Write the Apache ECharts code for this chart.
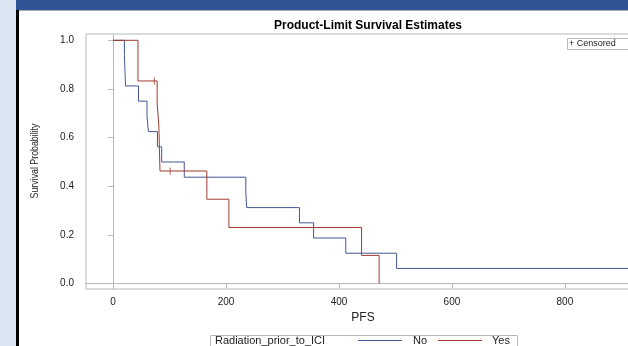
<!DOCTYPE html>
<html>
<head>
<meta charset="utf-8">
<script src="https://cdn.jsdelivr.net/npm/echarts@6/dist/echarts.min.js"></script>
<style>
  html, body { margin: 0; padding: 0; width: 628px; height: 346px; overflow: hidden; background: #dce6f2; }
  #bar { position: absolute; left: 16px; top: 0; width: 612px; height: 10px; background: #2f5597; border-bottom: 1px solid #a6a6a6; }
  #edge { position: absolute; left: 16px; top: 10px; width: 3px; height: 336px; background: #000; }
  #main { position: absolute; left: 19px; top: 11px; width: 650px; height: 335px; background: #fff; }
</style>
</head>
<body>
<div id="bar"></div>
<div id="edge"></div>
<div id="main"></div>
<script>
// 各组生存曲线（时间, 生存率）
var noTimes   = [0, 20, 22, 45, 60, 62.5, 78.5, 86, 126, 235, 236.5, 330, 355, 412, 502, 933];
var noSurv    = [1.0, 0.9375, 0.8125, 0.75, 0.6875, 0.625, 0.5625, 0.5, 0.4375, 0.375, 0.3125, 0.25, 0.1875, 0.125, 0.0625, 0.0625];
var yesTimes  = [0, 44, 78, 81, 83, 166, 205, 440, 471];
var yesSurv   = [1.0, 0.833, 0.741, 0.648, 0.463, 0.347, 0.231, 0.116, 0.0];
// 删失点
var yesCensTimes = [73, 101];
var yesCensSurv  = [0.833, 0.463];

var xTicks = [0, 200, 400, 600, 800];
var yTicks = [0, 0.2, 0.4, 0.6, 0.8, 1.0];

function pairs(xs, ys) {
    return xs.map(function(x, i) { return [x, ys[i]]; });
}

var blue = '#445694', red = '#a23a2e', frame = '#b8b8b8';
var sans = '"Liberation Sans", Arial, sans-serif';

// 图例（手工绘制）
function legendLine(x, color) {
    return { type: 'line', shape: { x1: x, y1: 329.5, x2: x + 44, y2: 329.5 }, style: { stroke: color, lineWidth: 1 } };
}
function legendText(x, text) {
    return { type: 'text', x: x, y: 330, style: { text: text, fontFamily: sans, fontSize: 11, fill: '#222', verticalAlign: 'middle' } };
}

var myChart = echarts.init(document.getElementById('main'));
var option = {
    animation: false,
    title: {
        text: 'Product-Limit Survival Estimates',
        left: 344,
        textAlign: 'center',
        top: 4,
        textStyle: { fontFamily: sans, fontSize: 12, fontWeight: 'bold', color: '#000' }
    },
    grid: {
        left: 67, right: 29, top: 23, bottom: 57,
        show: true, borderColor: frame, borderWidth: 1
    },
    xAxis: {
        type: 'value',
        min: -48, max: 933,
        name: 'PFS',
        nameLocation: 'middle',
        nameGap: 21,
        nameTextStyle: { fontFamily: sans, fontSize: 12, color: '#222' },
        axisLine: { lineStyle: { color: frame } },
        axisTick: { length: 5, lineStyle: { color: frame }, customValues: xTicks },
        axisLabel: { customValues: xTicks, margin: 8, fontFamily: sans, fontSize: 10, color: '#222' },
        splitLine: { show: false }
    },
    yAxis: {
        type: 'value',
        min: -0.022, max: 1.026,
        axisLine: { show: true, lineStyle: { color: frame } },
        axisTick: { show: true, length: 5, lineStyle: { color: frame }, customValues: yTicks },
        axisLabel: {
            customValues: yTicks, margin: 12, fontFamily: sans, fontSize: 10, color: '#222',
            formatter: function(v) { return v.toFixed(1); }
        },
        splitLine: { show: false }
    },
    graphic: [
        // 纵轴标题（窄体）
        { type: 'text', x: 16, y: 150, rotation: Math.PI / 2, scaleX: 0.8,
          style: { text: 'Survival Probability', fontFamily: sans, fontSize: 11, fill: '#222', align: 'center', verticalAlign: 'middle' } },
        { type: 'rect', shape: { x: 191.5, y: 324.5, width: 307, height: 11 }, style: { fill: '#fff', stroke: frame, lineWidth: 1 }, z: -1 },
        legendText(196, 'Radiation_prior_to_ICI'),
        legendLine(339, blue),
        legendText(394, 'No'),
        legendLine(419, red),
        legendText(473, 'Yes'),
        { type: 'rect', shape: { x: 548.5, y: 27.5, width: 100, height: 11 }, style: { fill: '#fff', stroke: frame, lineWidth: 1 } },
        { type: 'text', x: 550, y: 33, z: 10, style: { text: '+ Censored', fontFamily: sans, fontSize: 9, fill: '#222', verticalAlign: 'middle' } }
    ],
    series: [
        {
            name: 'No', type: 'line', step: 'end', showSymbol: false,
            itemStyle: { color: blue }, lineStyle: { width: 1, color: blue },
            data: pairs(noTimes, noSurv)
        },
        {
            name: 'Yes', type: 'line', step: 'end', showSymbol: false,
            itemStyle: { color: red }, lineStyle: { width: 1, color: red },
            data: pairs(yesTimes, yesSurv)
        },
        {
            name: 'Censored', type: 'scatter',
            symbol: 'path://M3,0h1v7h-1z', symbolSize: [1, 7],
            itemStyle: { color: red },
            data: pairs(yesCensTimes, yesCensSurv)
        }
    ]
};
myChart.setOption(option);
</script>
</body>
</html>
